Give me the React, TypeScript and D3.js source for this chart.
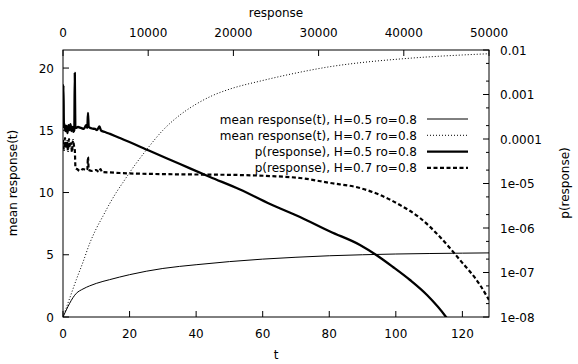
import React from "react";
import * as d3 from "d3";

// mean response(t), H=0.5 ro=0.8
const tMean05 = [0, 4, 6, 8, 10, 14, 20, 30, 40, 50, 60, 70, 80, 90, 100, 110, 120, 128];
const mean05 = [0, 1.9, 2.25, 2.5, 2.7, 3.0, 3.4, 3.9, 4.2, 4.45, 4.65, 4.8, 4.92, 5.0, 5.06, 5.1, 5.13, 5.15];

// mean response(t), H=0.7 ro=0.8
const tMean07 = [0, 2, 4, 6, 8, 10, 12, 14, 16, 18, 20, 25, 30, 35, 40, 45, 50, 60, 70, 80, 90, 100, 110, 120, 128];
const mean07 = [0, 1.5, 3.0, 4.4, 5.9, 7.1, 8.1, 9.1, 10.0, 10.8, 11.6, 13.4, 15.0, 16.2, 17.1, 17.8, 18.3, 19.0, 19.6, 20.1, 20.45, 20.7, 20.9, 21.05, 21.15];

// p(response), H=0.5 ro=0.8
const resp05 = [0, 50, 110, 176, 293, 411, 528, 646, 763, 880, 998, 1115, 1232, 1326, 1385, 1444, 1502, 1761, 2113, 2465, 2700, 2852, 2934, 3017, 3404, 3756, 3991, 4284, 4460, 4930, 5516, 6103, 6690, 10211, 13732, 17254, 20775, 24296, 27817, 31338, 34859, 36854, 38732, 40728, 42723, 44953, 45400];
const p05 = [1.77e-4, 1.63e-3, 1.86e-4, 2.17e-4, 1.51e-4, 1.96e-4, 1.36e-4, 2.06e-4, 1.59e-4, 2.17e-4, 1.51e-4, 1.86e-4, 1.44e-4, 1.59e-4, 3.04e-3, 1.86e-4, 1.77e-4, 1.86e-4, 1.77e-4, 1.68e-4, 2.06e-4, 1.77e-4, 3.84e-4, 1.86e-4, 1.72e-4, 1.68e-4, 1.59e-4, 1.91e-4, 1.55e-4, 1.44e-4, 1.30e-4, 1.17e-4, 1.05e-4, 5.37e-5, 2.74e-5, 1.40e-5, 7.33e-6, 3.46e-6, 1.77e-6, 8.34e-7, 4.15e-7, 2.41e-7, 1.33e-7, 6.78e-8, 3.12e-8, 1.0e-8, 7.5e-9];

// p(response), H=0.7 ro=0.8
const resp07 = [0, 117, 235, 352, 469, 587, 704, 822, 939, 1056, 1174, 1291, 1385, 1467, 1643, 1995, 2347, 2700, 2852, 2934, 3017, 3404, 3873, 4225, 4401, 4577, 5516, 6690, 11385, 16080, 20775, 24296, 27817, 31338, 34859, 37207, 39554, 41901, 44249, 46596, 48944, 50000];
const p07 = [9.5e-5, 5.66e-5, 1.05e-4, 6.28e-5, 9.02e-5, 5.37e-5, 1.0e-4, 6.61e-5, 8.13e-5, 5.1e-5, 9.5e-5, 6.97e-5, 5.66e-5, 2.23e-5, 2.12e-5, 1.91e-5, 2.12e-5, 2.01e-5, 2.01e-5, 3.94e-5, 2.01e-5, 1.91e-5, 2.01e-5, 1.81e-5, 2.12e-5, 1.81e-5, 1.77e-5, 1.72e-5, 1.63e-5, 1.59e-5, 1.55e-5, 1.47e-5, 1.33e-5, 1.03e-5, 7.92e-6, 5.52e-6, 3.29e-6, 1.68e-6, 6.28e-7, 1.91e-7, 5.24e-8, 2.41e-8];

const xTicks = [0, 20, 40, 60, 80, 100, 120];
const x2Ticks = [0, 10000, 20000, 30000, 40000, 50000];
const yTicks = [0, 5, 10, 15, 20];
const y2Ticks = [1e-8, 1e-7, 1e-6, 1e-5, 1e-4, 1e-3, 1e-2];
const y2Labels = ["1e-08", "1e-07", "1e-06", "1e-05", "0.0001", "0.001", "0.01"];
const legendLabels = [
  "mean response(t), H=0.5 ro=0.8",
  "mean response(t), H=0.7 ro=0.8",
  "p(response), H=0.5 ro=0.8",
  "p(response), H=0.7 ro=0.8",
];

const L = 63, R = 489, T = 50, B = 317;
const FONT = "DejaVu Sans, sans-serif";

export default function App() {
  const x = d3.scaleLinear().domain([0, 128]).range([L, R]);
  const x2 = d3.scaleLinear().domain([0, 50000]).range([L, R]);
  const y = d3.scaleLinear().domain([0, 21.45]).range([B, T]);
  const y2 = d3.scaleLog().domain([1e-8, 1e-2]).range([B, T]);

  const lineXY = d3.line<[number, number]>().x((d) => x(d[0])).y((d) => y(d[1])).curve(d3.curveMonotoneX);
  const lineX2Y2 = d3.line<[number, number]>().x((d) => x2(d[0])).y((d) => y2(d[1])).curve(d3.curveMonotoneX);

  const d05 = lineXY(tMean05.map((t, i) => [t, mean05[i]]))!;
  const d07 = lineXY(tMean07.map((t, i) => [t, mean07[i]]))!;
  const dp05 = lineX2Y2(resp05.map((r, i) => [r, p05[i]]))!;
  const dp07 = lineX2Y2(resp07.map((r, i) => [r, p07[i]]))!;

  const minorY2: number[] = [];
  for (let e = -8; e < -2; e++) {
    for (const m of [2, 5]) minorY2.push(m * Math.pow(10, e));
  }

  const styles = [
    { w: 1, dash: undefined as string | undefined },
    { w: 1, dash: "1,2" },
    { w: 2.3, dash: undefined },
    { w: 2.2, dash: "4,2.5" },
  ];
  const paths = [d05, d07, dp05, dp07];

  return (
    <svg width={578} height={364} style={{ position: "absolute", left: 0, top: 0, background: "#fff" }} fontFamily={FONT} fontSize={12}>
      <rect x={0} y={0} width={578} height={364} fill="#fff" />
      <defs>
        <clipPath id="plot">
          <rect x={L} y={T} width={R - L} height={B - T} />
        </clipPath>
      </defs>

      {/* ticks */}
      <g stroke="#000" strokeWidth={1}>
        {xTicks.map((t) => (
          <line key={"xt" + t} x1={x(t)} x2={x(t)} y1={B} y2={B - 6} />
        ))}
        {x2Ticks.map((t) => (
          <line key={"x2t" + t} x1={x2(t)} x2={x2(t)} y1={T} y2={T + 6} />
        ))}
        {yTicks.map((t) => (
          <line key={"yt" + t} x1={L} x2={L + 6} y1={y(t)} y2={y(t)} />
        ))}
        {y2Ticks.map((t) => (
          <line key={"y2t" + t} x1={R} x2={R - 6} y1={y2(t)} y2={y2(t)} />
        ))}
        {minorY2.map((t) => (
          <line key={"y2m" + t} x1={R} x2={R - 3} y1={y2(t)} y2={y2(t)} />
        ))}
      </g>

      {/* tick labels */}
      <g fill="#000">
        {xTicks.map((t) => (
          <text key={"xl" + t} x={x(t)} y={338} textAnchor="middle">{t}</text>
        ))}
        {x2Ticks.map((t) => (
          <text key={"x2l" + t} x={x2(t)} y={37} textAnchor="middle">{t}</text>
        ))}
        {yTicks.map((t) => (
          <text key={"yl" + t} x={54} y={y(t) + 4.5} textAnchor="end">{t}</text>
        ))}
        {y2Ticks.map((t, i) => (
          <text key={"y2l" + t} x={500} y={y2(t) + 4.5} textAnchor="start">{y2Labels[i]}</text>
        ))}
        <text x={276} y={17} textAnchor="middle">response</text>
        <text x={276} y={359} textAnchor="middle">t</text>
        <text transform="translate(17,183) rotate(-90)" textAnchor="middle">mean response(t)</text>
        <text transform="translate(569,183) rotate(-90)" textAnchor="middle">p(response)</text>
      </g>

      {/* curves */}
      <g clipPath="url(#plot)" fill="none" stroke="#000" strokeLinejoin="round">
        {paths.map((d, i) => (
          <path key={"c" + i} d={d} strokeWidth={styles[i].w} strokeDasharray={styles[i].dash} />
        ))}
      </g>

      {/* legend */}
      <g>
        {legendLabels.map((lab, i) => {
          const yy = 119 + i * 16.3;
          return (
            <g key={"lg" + i}>
              <text x={417} y={yy + 4.5} textAnchor="end" fill="#000">{lab}</text>
              <line x1={427} x2={468} y1={yy} y2={yy} stroke="#000" strokeWidth={styles[i].w} strokeDasharray={styles[i].dash} />
            </g>
          );
        })}
      </g>

      {/* border */}
      <rect x={L} y={T} width={R - L} height={B - T} fill="none" stroke="#000" strokeWidth={1} />
    </svg>
  );
}
